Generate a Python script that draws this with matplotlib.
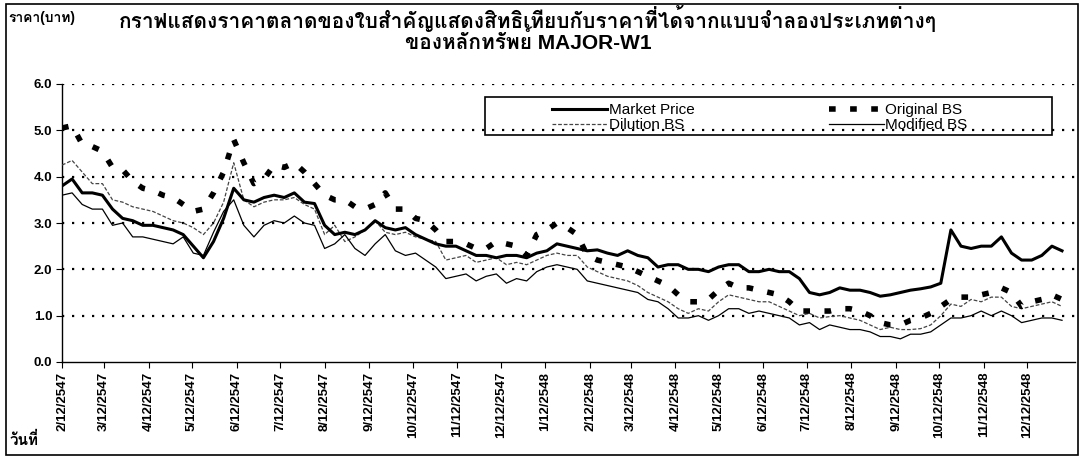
import matplotlib
matplotlib.use("Agg")
import matplotlib.pyplot as plt
from matplotlib import font_manager
from matplotlib.ft2font import FT2Font
from matplotlib.patches import Rectangle
import pandas as pd
from datetime import date


def find_thai_font():
    # look for any installed font that has Thai glyphs
    names = []
    for f in font_manager.fontManager.ttflist:
        try:
            if 0x0E01 in FT2Font(f.fname).get_charmap():
                names.append(f.name)
        except Exception:
            pass
    return names[0] if names else None


thai = find_thai_font()
families = ["Liberation Sans"] + ([thai] if thai else []) + ["DejaVu Sans"]
plt.rcParams["font.family"] = families

# weekly readings, starting 12 Feb 2004 (2/12/2547)
market = [3.8, 3.95, 3.65, 3.65, 3.6, 3.3, 3.1, 3.05, 2.95, 2.95,
          2.9, 2.85, 2.75, 2.5, 2.25, 2.6, 3.1, 3.75, 3.5, 3.45,
          3.55, 3.6, 3.55, 3.65, 3.45, 3.42, 2.95, 2.75, 2.8, 2.75,
          2.85, 3.05, 2.9, 2.85, 2.9, 2.75, 2.65, 2.55, 2.5, 2.5,
          2.4, 2.3, 2.3, 2.25, 2.3, 2.3, 2.25, 2.35, 2.4, 2.55,
          2.5, 2.45, 2.4, 2.42, 2.35, 2.3, 2.4, 2.3, 2.25, 2.05,
          2.1, 2.1, 2.0, 2.0, 1.95, 2.05, 2.1, 2.1, 1.95, 1.95,
          2.0, 1.95, 1.95, 1.8, 1.5, 1.45, 1.5, 1.6, 1.55, 1.55,
          1.5, 1.42, 1.45, 1.5, 1.55, 1.58, 1.62, 1.7, 2.85, 2.5,
          2.45, 2.5, 2.5, 2.7, 2.35, 2.2, 2.2, 2.3, 2.5, 2.4]

original_bs = [5.05, 5.1, 4.7, 4.65, 4.55, 4.2, 4.15, 3.9, 3.75, 3.7,
               3.6, 3.55, 3.4, 3.25, 3.3, 3.65, 4.1, 4.8, 4.3, 3.85,
               3.95, 4.25, 4.2, 4.3, 4.1, 3.85, 3.6, 3.5, 3.5, 3.35,
               3.3, 3.4, 3.65, 3.3, 3.3, 3.1, 3.05, 2.85, 2.6, 2.6,
               2.55, 2.45, 2.45, 2.6, 2.55, 2.5, 2.3, 2.75, 2.85, 3.0,
               2.9, 2.75, 2.3, 2.2, 2.15, 2.1, 2.05, 1.95, 1.85, 1.75,
               1.65, 1.45, 1.3, 1.3, 1.35, 1.55, 1.7, 1.6, 1.6, 1.55,
               1.5, 1.45, 1.3, 1.1, 1.1, 1.1, 1.1, 1.15, 1.15, 1.1,
               1.0, 0.85, 0.8, 0.8, 0.9, 0.95, 1.05, 1.2, 1.35, 1.4,
               1.4, 1.45, 1.5, 1.6, 1.5, 1.2, 1.3, 1.35, 1.45, 1.35]

dilution_bs = [4.25, 4.35, 4.1, 3.85, 3.85, 3.5, 3.45, 3.35, 3.3, 3.25,
               3.15, 3.05, 3.0, 2.9, 2.75, 3.0, 3.45, 4.3, 3.5, 3.35,
               3.45, 3.5, 3.5, 3.55, 3.4, 3.3, 2.75, 2.95, 2.6, 2.7,
               2.85, 3.05, 2.8, 2.75, 2.8, 2.7, 2.65, 2.6, 2.2, 2.25,
               2.3, 2.15, 2.2, 2.25, 2.1, 2.15, 2.1, 2.2, 2.3, 2.35,
               2.3, 2.3, 2.05, 1.95, 1.85, 1.8, 1.75, 1.65, 1.5, 1.4,
               1.3, 1.15, 1.05, 1.15, 1.1, 1.3, 1.45, 1.4, 1.35, 1.3,
               1.3, 1.2, 1.1, 1.0, 1.05, 0.95, 0.98, 1.0, 0.95, 0.9,
               0.8, 0.7, 0.75, 0.7, 0.7, 0.72, 0.8, 1.0, 1.25, 1.2,
               1.35, 1.3, 1.4, 1.4, 1.2, 1.15, 1.2, 1.25, 1.3, 1.2]

modified_bs = [3.6, 3.65, 3.4, 3.3, 3.3, 2.95, 3.0, 2.7, 2.7, 2.65,
               2.6, 2.55, 2.7, 2.35, 2.3, 2.8, 3.25, 3.5, 2.95, 2.7,
               2.95, 3.05, 3.0, 3.15, 3.0, 2.95, 2.45, 2.55, 2.75, 2.45,
               2.3, 2.55, 2.75, 2.4, 2.3, 2.35, 2.2, 2.05, 1.8, 1.85,
               1.9, 1.75, 1.85, 1.9, 1.7, 1.8, 1.75, 1.95, 2.05, 2.1,
               2.05, 2.0, 1.75, 1.7, 1.65, 1.6, 1.55, 1.5, 1.35, 1.3,
               1.15, 0.95, 0.95, 1.0, 0.9, 1.0, 1.15, 1.15, 1.05, 1.1,
               1.05, 1.0, 0.95, 0.8, 0.85, 0.7, 0.8, 0.75, 0.7, 0.7,
               0.65, 0.55, 0.55, 0.5, 0.6, 0.6, 0.65, 0.8, 0.95, 0.95,
               1.0, 1.1, 1.0, 1.1, 1.0, 0.85, 0.9, 0.95, 0.95, 0.9]

tick_labels = ["2/12/2547", "3/12/2547", "4/12/2547", "5/12/2547", "6/12/2547",
               "7/12/2547", "8/12/2547", "9/12/2547", "10/12/2547", "11/12/2547",
               "12/12/2547", "1/12/2548", "2/12/2548", "3/12/2548", "4/12/2548",
               "5/12/2548", "6/12/2548", "7/12/2548", "8/12/2548", "9/12/2548",
               "10/12/2548", "11/12/2548", "12/12/2548"]

dates = pd.date_range("2004-02-12", periods=len(market), freq="7D")


def thai_to_date(s):
    m, d, y = s.split("/")
    return date(int(y) - 543, int(m), int(d))


tick_dates = [thai_to_date(s) for s in tick_labels]

W, H = 1081, 459
fig = plt.figure(figsize=(W / 100, H / 100), dpi=100)
ax = fig.add_axes([62 / W, 1 - 362 / H, (1075 - 62) / W, (362 - 84) / H])

ax.plot(dates, market, color="black", lw=2.2, label="Market Price", zorder=4)
ax.plot(dates, dilution_bs, color="#444444", lw=0.9, ls=(0, (3, 1.5)),
        label="Dilution BS", zorder=3)
ax.plot(dates, original_bs, color="black", lw=4, ls=(0, (1.2, 2.6)),
        solid_capstyle="butt", label="Original BS", zorder=5)
ax.plot(dates, modified_bs, color="black", lw=0.9, label="Modified BS", zorder=3)

ax.set_ylim(0, 6)
ax.set_yticks([0, 1, 2, 3, 4, 5, 6])
ax.set_yticklabels(["%.1f" % v for v in range(7)])
ax.set_xlim(date(2004, 2, 12), date(2006, 1, 14))
ax.set_xticks(tick_dates)
ax.set_xticklabels(tick_labels, rotation=90)

for v in range(1, 7):
    ax.axhline(v, color="black", lw=1.6, ls=(0, (1, 3.5)), zorder=1)

for side in ["top", "right"]:
    ax.spines[side].set_visible(False)
ax.spines["left"].set_linewidth(1.0)
ax.spines["bottom"].set_linewidth(1.0)
ax.tick_params(axis="both", direction="out", length=4, width=0.8,
               labelsize=9.5, pad=3)
for t in ax.get_xticklabels() + ax.get_yticklabels():
    t.set_fontweight("bold")

# legend with its own frame, like the original
fig.patches.append(Rectangle((485 / W, 1 - 135 / H), (1052 - 485) / W, 38 / H,
                             transform=fig.transFigure, fill=False,
                             ec="black", lw=1.2, zorder=10))
fig.legend(loc="upper left", bbox_to_anchor=(543 / W, 1 - 94 / H), ncol=2,
           frameon=False, fontsize=11, handlelength=3.6, handletextpad=0.1,
           columnspacing=8.8, labelspacing=0.08, borderpad=0.1)

fig.text(528 / W, 1 - 18 / H,
         "กราฟแสดงราคาตลาดของใบสำคัญแสดงสิทธิเทียบกับราคาที่ได้จากแบบจำลองประเภทต่างๆ",
         ha="center", va="center", fontsize=15, fontweight="bold")
fig.text(528 / W, 1 - 42 / H, "ของหลักทรัพย์ MAJOR-W1",
         ha="center", va="center", fontsize=15, fontweight="bold")
fig.text(8 / W, 1 - 18 / H, "ราคา(บาท)", ha="left", va="center",
         fontsize=10, fontweight="bold")
fig.text(10 / W, 1 - 440 / H, "วันที่", ha="left", va="center",
         fontsize=11, fontweight="bold")

fig.patches.append(Rectangle((6 / W, 1 - 455 / H), (1078 - 6) / W, (455 - 4) / H,
                             transform=fig.transFigure, fill=False,
                             ec="black", lw=1.2))

fig.savefig("out.png", dpi=100)
